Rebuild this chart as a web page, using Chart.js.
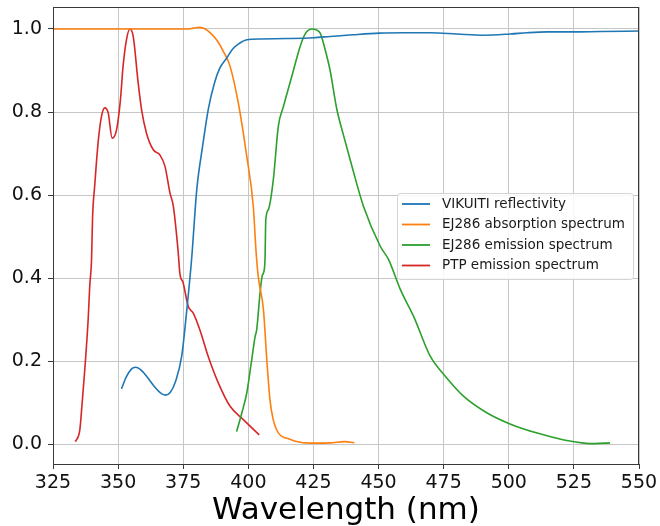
<!DOCTYPE html>
<html>
<head>
<meta charset="utf-8">
<script src="https://cdn.jsdelivr.net/npm/chart.js@4.4.1/dist/chart.umd.min.js"></script>
<style>
  html, body { margin: 0; padding: 0; background: #fff; }
  #wrap { width: 660px; height: 526px; }
</style>
</head>
<body>
<div id="wrap"><canvas id="spectraChart" width="660" height="526"></canvas></div>
<script>
// wavelength (nm) / value pairs for each curve
const vikuitiX = [351.3, 353, 355, 356.7, 358.5, 361, 364, 366.5, 368.2, 370, 372, 374.4, 376, 378.2, 380.2, 382.5, 384.6, 387, 389, 391.7, 394, 396.5, 399.4, 405, 415, 425, 431.4, 440, 450.4, 460, 470, 480, 490.4, 500.6, 507, 514.8, 525, 535, 550];
const vikuitiY = [0.133, 0.16, 0.18, 0.185, 0.18, 0.163, 0.138, 0.122, 0.118, 0.124, 0.15, 0.211, 0.30, 0.444, 0.613, 0.72, 0.806, 0.87, 0.905, 0.93, 0.952, 0.965, 0.974, 0.976, 0.977, 0.979, 0.982, 0.986, 0.99, 0.991, 0.991, 0.988, 0.985, 0.988, 0.991, 0.993, 0.993, 0.994, 0.995];

const absorbX = [325, 350, 370, 376, 379, 381.4, 383.5, 385.5, 387.8, 390.5, 393, 396.2, 399.4, 401.9, 403, 403.8, 405.8, 407.1, 408.3, 409.5, 410.9, 412.5, 414.8, 418, 423.7, 431.4, 437, 440.7];
const absorbY = [1.0, 1.0, 1.0, 1.0, 1.002, 1.004, 1.0, 0.99, 0.974, 0.945, 0.91, 0.82, 0.693, 0.573, 0.461, 0.404, 0.324, 0.203, 0.107, 0.06, 0.034, 0.02, 0.014, 0.007, 0.0024, 0.003, 0.006, 0.003];

const emitX = [395.5, 397.5, 399.4, 401, 402.6, 403.2, 404.5, 405.3, 405.8, 406.4, 406.7, 407.7, 409.6, 411.5, 413.5, 416.7, 419.9, 422, 424.4, 426, 427.6, 429.5, 431.4, 434, 436.5, 439.1, 444.2, 450.7, 453.9, 458.4, 463.5, 469.9, 475.7, 482.7, 491.7, 500.7, 510.9, 521.2, 528.8, 533, 538.9];
const emitY = [0.03, 0.075, 0.123, 0.19, 0.259, 0.275, 0.364, 0.405, 0.412, 0.444, 0.54, 0.565, 0.637, 0.765, 0.814, 0.886, 0.958, 0.99, 1.0, 0.998, 0.99, 0.95, 0.9, 0.806, 0.745, 0.685, 0.573, 0.476, 0.444, 0.372, 0.307, 0.211, 0.163, 0.115, 0.075, 0.048, 0.0265, 0.01, 0.0024, 0.001, 0.003];

const ptpX = [333.5, 334, 335.3, 336.2, 337.2, 338.5, 339.1, 339.8, 340.2, 341, 342.3, 343.6, 344.9, 346.2, 347.7, 349.4, 350.9, 351.9, 353.2, 354.5, 355.8, 357.7, 359, 360.9, 363.5, 366, 368, 369.9, 371.2, 373.1, 373.7, 375, 376.9, 378.8, 381.4, 384.6, 388.5, 393, 398.1, 404.2];
const ptpY = [0.006, 0.01, 0.034, 0.1, 0.179, 0.30, 0.38, 0.444, 0.548, 0.621, 0.725, 0.789, 0.81, 0.798, 0.737, 0.757, 0.83, 0.91, 0.974, 1.0, 0.982, 0.87, 0.806, 0.749, 0.709, 0.697, 0.669, 0.605, 0.573, 0.46, 0.412, 0.388, 0.332, 0.316, 0.275, 0.211, 0.147, 0.091, 0.059, 0.022];

const seriesNames = ['VIKUITI reflectivity', 'EJ286 absorption spectrum', 'EJ286 emission spectrum', 'PTP emission spectrum'];
const seriesColors = ['#1f77b4', '#ff7f0e', '#2ca02c', '#d62728'];
const yTicks = [0, 0.2, 0.4, 0.6, 0.8, 1.0];

const toPoints = (xs, ys) => xs.map((x, i) => ({x: x, y: ys[i]}));
const curves = [
    toPoints(vikuitiX, vikuitiY),
    toPoints(absorbX, absorbY),
    toPoints(emitX, emitY),
    toPoints(ptpX, ptpY)
];

// frame on all four sides plus the boxed legend in the middle right
const framePlugin = {
    id: 'frame',
    afterDraw(chart) {
        const {ctx, chartArea: a} = chart;
        ctx.save();
        ctx.strokeStyle = '#3a3a3a';
        ctx.lineWidth = 1;
        ctx.strokeRect(a.left + 0.5, a.top + 0.5, a.right - a.left - 1, a.bottom - a.top);

        const bx = 397, by = 193, bw = 236, bh = 86;
        ctx.beginPath();
        ctx.roundRect(bx + 0.5, by + 0.5, bw, bh, 3);
        ctx.fillStyle = 'rgba(255,255,255,0.85)';
        ctx.fill();
        ctx.strokeStyle = '#d4d4d4';
        ctx.stroke();

        ctx.font = '13.5px "DejaVu Sans"';
        ctx.textBaseline = 'middle';
        seriesNames.forEach((name, i) => {
            const y = 204 + i * 20.5;
            ctx.strokeStyle = seriesColors[i];
            ctx.lineWidth = 1.8;
            ctx.beginPath();
            ctx.moveTo(402, y);
            ctx.lineTo(430, y);
            ctx.stroke();
            ctx.fillStyle = '#1a1a1a';
            ctx.fillText(name, 442, y);
        });
        ctx.restore();
    }
};

const ctx = document.getElementById('spectraChart').getContext('2d');
new Chart(ctx, {
    type: 'line',
    data: {
        datasets: curves.map((pts, i) => ({
            label: seriesNames[i],
            data: pts,
            borderColor: seriesColors[i],
            backgroundColor: seriesColors[i],
            borderWidth: 1.6,
            pointRadius: 0,
            cubicInterpolationMode: 'monotone',
            fill: false
        }))
    },
    options: {
        responsive: false,
        animation: false,
        layout: { padding: { left: 0, right: 21, top: 7, bottom: 0 } },
        plugins: {
            legend: { display: false },
            tooltip: { enabled: false }
        },
        scales: {
            x: {
                type: 'linear',
                min: 325,
                max: 550,
                afterFit: (scale) => {
                    scale.height = 62;
                    scale.paddingLeft = 0;
                    scale.paddingRight = 0;
                },
                ticks: {
                    stepSize: 25,
                    color: '#111',
                    padding: 3,
                    maxRotation: 0,
                    font: { family: 'DejaVu Sans', size: 19 },
                    callback: (v) => v.toFixed(0)
                },
                grid: { color: '#c6c6c6', lineWidth: 1, tickLength: 5, tickColor: '#3a3a3a' },
                border: { color: '#3a3a3a' },
                title: {
                    display: true,
                    text: 'Wavelength (nm)',
                    color: '#000',
                    font: { family: 'DejaVu Sans', size: 31, lineHeight: 1 },
                    padding: { top: 0, bottom: 0 }
                }
            },
            y: {
                type: 'linear',
                min: -0.048,
                max: 1.053,
                afterFit: (scale) => {
                    scale.width = 53;
                    scale.paddingTop = 0;
                    scale.paddingBottom = 0;
                },
                afterBuildTicks: (scale) => { scale.ticks = yTicks.map(v => ({value: v})); },
                ticks: {
                    color: '#111',
                    padding: 6,
                    font: { family: 'DejaVu Sans', size: 19 },
                    callback: (v) => v.toFixed(1)
                },
                grid: { color: '#c6c6c6', lineWidth: 1, tickLength: 5, tickColor: '#3a3a3a' },
                border: { color: '#3a3a3a' }
            }
        }
    },
    plugins: [framePlugin]
});
</script>
</body>
</html>
